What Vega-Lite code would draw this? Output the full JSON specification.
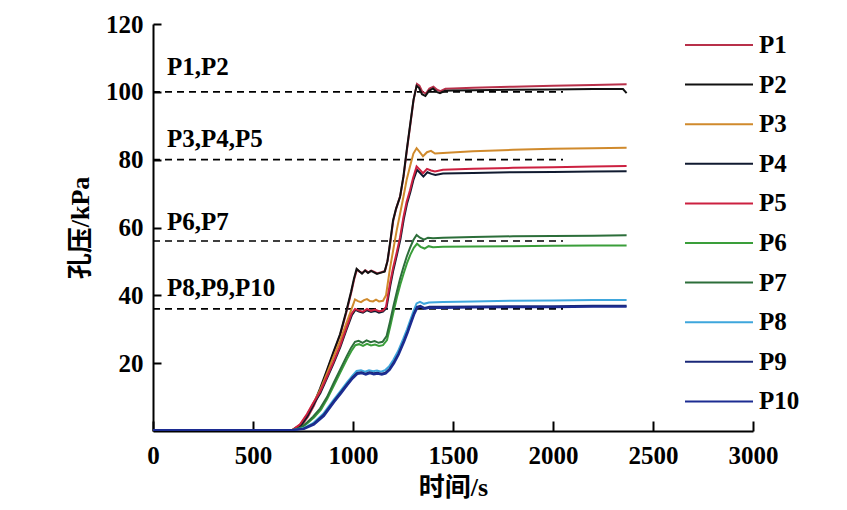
{
  "$schema": "https://vega.github.io/schema/vega-lite/v6.json",
  "width": 600,
  "height": 407,
  "autosize": {"type": "none"},
  "padding": {"left": 153, "top": 24, "right": 94, "bottom": 79},
  "background": "white",
  "config": {
    "view": {"stroke": null},
    "axis": {
      "grid": false,
      "domainColor": "black",
      "domainWidth": 2,
      "tickColor": "black",
      "tickWidth": 2,
      "labelFont": "Liberation Serif",
      "labelFontSize": 25,
      "labelFontWeight": "bold",
      "labelColor": "black",
      "labelFlush": false,
      "titleFont": "'Liberation Serif', 'Noto Sans CJK SC'",
      "titleFontSize": 26,
      "titleFontWeight": "bold",
      "titleColor": "black"
    }
  },
  "datasets": {
    "curves": [
      {"s":"P1","t":0,"p":0.3},{"s":"P1","t":300,"p":0.3},{"s":"P1","t":600,"p":0.3},{"s":"P1","t":700,"p":0.4},{"s":"P1","t":745,"p":1.8},{"s":"P1","t":775,"p":4.2},{"s":"P1","t":805,"p":7.5},{"s":"P1","t":840,"p":12.5},{"s":"P1","t":872,"p":18},{"s":"P1","t":902,"p":23},{"s":"P1","t":937,"p":28.5},{"s":"P1","t":967,"p":35},{"s":"P1","t":992,"p":41},{"s":"P1","t":1007,"p":45},{"s":"P1","t":1020,"p":47.6},{"s":"P1","t":1032,"p":47},{"s":"P1","t":1047,"p":46.6},{"s":"P1","t":1062,"p":47.4},{"s":"P1","t":1077,"p":46.8},{"s":"P1","t":1092,"p":47.3},{"s":"P1","t":1107,"p":46.9},{"s":"P1","t":1122,"p":46.5},{"s":"P1","t":1142,"p":46.8},{"s":"P1","t":1160,"p":47.2},{"s":"P1","t":1174,"p":50.5},{"s":"P1","t":1187,"p":55.8},{"s":"P1","t":1202,"p":62.3},{"s":"P1","t":1217,"p":65.8},{"s":"P1","t":1237,"p":69.5},{"s":"P1","t":1254,"p":75.5},{"s":"P1","t":1270,"p":83},{"s":"P1","t":1287,"p":90.5},{"s":"P1","t":1304,"p":98},{"s":"P1","t":1320,"p":102.3},{"s":"P1","t":1332,"p":101.8},{"s":"P1","t":1347,"p":100},{"s":"P1","t":1364,"p":99.5},{"s":"P1","t":1382,"p":101},{"s":"P1","t":1402,"p":101.5},{"s":"P1","t":1420,"p":100.6},{"s":"P1","t":1437,"p":100.2},{"s":"P1","t":1462,"p":100.9},{"s":"P1","t":1500,"p":101},{"s":"P1","t":1600,"p":101.2},{"s":"P1","t":1800,"p":101.5},{"s":"P1","t":2000,"p":101.8},{"s":"P1","t":2200,"p":102},{"s":"P1","t":2368,"p":102.2},
      {"s":"P2","t":0,"p":0.3},{"s":"P2","t":300,"p":0.3},{"s":"P2","t":600,"p":0.3},{"s":"P2","t":700,"p":0.4},{"s":"P2","t":740,"p":1.8},{"s":"P2","t":770,"p":4.2},{"s":"P2","t":800,"p":7.5},{"s":"P2","t":835,"p":12.5},{"s":"P2","t":870,"p":18},{"s":"P2","t":900,"p":23},{"s":"P2","t":935,"p":28.5},{"s":"P2","t":965,"p":35},{"s":"P2","t":990,"p":41},{"s":"P2","t":1005,"p":45},{"s":"P2","t":1018,"p":47.8},{"s":"P2","t":1030,"p":47.2},{"s":"P2","t":1045,"p":46.4},{"s":"P2","t":1060,"p":47.3},{"s":"P2","t":1075,"p":46.6},{"s":"P2","t":1090,"p":47.2},{"s":"P2","t":1105,"p":46.8},{"s":"P2","t":1120,"p":46.3},{"s":"P2","t":1140,"p":46.7},{"s":"P2","t":1158,"p":47},{"s":"P2","t":1172,"p":50},{"s":"P2","t":1185,"p":55.3},{"s":"P2","t":1200,"p":62},{"s":"P2","t":1215,"p":65.5},{"s":"P2","t":1235,"p":69},{"s":"P2","t":1252,"p":75},{"s":"P2","t":1268,"p":82.5},{"s":"P2","t":1285,"p":90},{"s":"P2","t":1302,"p":97.5},{"s":"P2","t":1318,"p":101.8},{"s":"P2","t":1330,"p":101.2},{"s":"P2","t":1345,"p":99.3},{"s":"P2","t":1362,"p":98.8},{"s":"P2","t":1380,"p":100.3},{"s":"P2","t":1400,"p":101},{"s":"P2","t":1418,"p":100},{"s":"P2","t":1435,"p":99.6},{"s":"P2","t":1460,"p":100.3},{"s":"P2","t":1500,"p":100.4},{"s":"P2","t":1600,"p":100.5},{"s":"P2","t":1800,"p":100.6},{"s":"P2","t":2000,"p":100.7},{"s":"P2","t":2200,"p":100.8},{"s":"P2","t":2350,"p":100.8},{"s":"P2","t":2368,"p":99.6},
      {"s":"P3","t":0,"p":0.3},{"s":"P3","t":600,"p":0.3},{"s":"P3","t":700,"p":0.4},{"s":"P3","t":735,"p":1.8},{"s":"P3","t":770,"p":4.8},{"s":"P3","t":800,"p":8},{"s":"P3","t":835,"p":12},{"s":"P3","t":870,"p":17},{"s":"P3","t":900,"p":21.5},{"s":"P3","t":935,"p":26.5},{"s":"P3","t":965,"p":31.5},{"s":"P3","t":993,"p":36},{"s":"P3","t":1010,"p":38.8},{"s":"P3","t":1025,"p":38.3},{"s":"P3","t":1040,"p":38},{"s":"P3","t":1055,"p":38.6},{"s":"P3","t":1070,"p":38.9},{"s":"P3","t":1085,"p":38.3},{"s":"P3","t":1100,"p":38.2},{"s":"P3","t":1115,"p":38.7},{"s":"P3","t":1130,"p":38.2},{"s":"P3","t":1150,"p":38.4},{"s":"P3","t":1165,"p":40},{"s":"P3","t":1185,"p":48},{"s":"P3","t":1200,"p":53},{"s":"P3","t":1218,"p":59},{"s":"P3","t":1235,"p":64},{"s":"P3","t":1252,"p":69},{"s":"P3","t":1268,"p":74},{"s":"P3","t":1285,"p":78},{"s":"P3","t":1302,"p":81.8},{"s":"P3","t":1318,"p":83.4},{"s":"P3","t":1333,"p":82.3},{"s":"P3","t":1350,"p":81},{"s":"P3","t":1370,"p":82.2},{"s":"P3","t":1390,"p":82.6},{"s":"P3","t":1410,"p":81.8},{"s":"P3","t":1450,"p":82},{"s":"P3","t":1600,"p":82.5},{"s":"P3","t":1800,"p":82.9},{"s":"P3","t":2000,"p":83.2},{"s":"P3","t":2200,"p":83.4},{"s":"P3","t":2368,"p":83.5},
      {"s":"P4","t":0,"p":0.3},{"s":"P4","t":600,"p":0.3},{"s":"P4","t":700,"p":0.4},{"s":"P4","t":740,"p":1.8},{"s":"P4","t":772,"p":4.6},{"s":"P4","t":802,"p":7.8},{"s":"P4","t":837,"p":11.2},{"s":"P4","t":872,"p":15.8},{"s":"P4","t":902,"p":19.8},{"s":"P4","t":937,"p":24.8},{"s":"P4","t":967,"p":29.8},{"s":"P4","t":995,"p":34.2},{"s":"P4","t":1012,"p":35.7},{"s":"P4","t":1030,"p":35.2},{"s":"P4","t":1050,"p":34.9},{"s":"P4","t":1070,"p":35.6},{"s":"P4","t":1090,"p":35.1},{"s":"P4","t":1110,"p":35.4},{"s":"P4","t":1130,"p":34.9},{"s":"P4","t":1150,"p":35.2},{"s":"P4","t":1167,"p":36.2},{"s":"P4","t":1187,"p":43},{"s":"P4","t":1202,"p":47.5},{"s":"P4","t":1220,"p":52},{"s":"P4","t":1237,"p":56.5},{"s":"P4","t":1254,"p":62.5},{"s":"P4","t":1270,"p":67},{"s":"P4","t":1287,"p":70.5},{"s":"P4","t":1302,"p":74},{"s":"P4","t":1320,"p":77},{"s":"P4","t":1337,"p":76},{"s":"P4","t":1352,"p":75},{"s":"P4","t":1372,"p":76.3},{"s":"P4","t":1392,"p":75.8},{"s":"P4","t":1412,"p":75.5},{"s":"P4","t":1450,"p":75.9},{"s":"P4","t":1600,"p":76.1},{"s":"P4","t":1800,"p":76.3},{"s":"P4","t":2000,"p":76.4},{"s":"P4","t":2200,"p":76.5},{"s":"P4","t":2368,"p":76.6},
      {"s":"P5","t":0,"p":0.3},{"s":"P5","t":600,"p":0.3},{"s":"P5","t":700,"p":0.4},{"s":"P5","t":735,"p":2},{"s":"P5","t":770,"p":5},{"s":"P5","t":800,"p":8.2},{"s":"P5","t":835,"p":11.5},{"s":"P5","t":870,"p":16},{"s":"P5","t":900,"p":20},{"s":"P5","t":935,"p":25},{"s":"P5","t":965,"p":30},{"s":"P5","t":993,"p":34.6},{"s":"P5","t":1010,"p":36},{"s":"P5","t":1030,"p":35.5},{"s":"P5","t":1050,"p":35.2},{"s":"P5","t":1070,"p":36},{"s":"P5","t":1090,"p":35.4},{"s":"P5","t":1110,"p":35.8},{"s":"P5","t":1130,"p":35.3},{"s":"P5","t":1150,"p":35.5},{"s":"P5","t":1165,"p":36.6},{"s":"P5","t":1185,"p":43.5},{"s":"P5","t":1200,"p":48},{"s":"P5","t":1218,"p":52.5},{"s":"P5","t":1235,"p":57},{"s":"P5","t":1252,"p":63},{"s":"P5","t":1268,"p":67.5},{"s":"P5","t":1285,"p":71},{"s":"P5","t":1300,"p":74.5},{"s":"P5","t":1318,"p":78},{"s":"P5","t":1335,"p":77},{"s":"P5","t":1350,"p":76},{"s":"P5","t":1370,"p":77.3},{"s":"P5","t":1390,"p":76.8},{"s":"P5","t":1410,"p":76.5},{"s":"P5","t":1450,"p":77},{"s":"P5","t":1600,"p":77.3},{"s":"P5","t":1800,"p":77.6},{"s":"P5","t":2000,"p":77.8},{"s":"P5","t":2200,"p":78},{"s":"P5","t":2368,"p":78.1},
      {"s":"P6","t":0,"p":0.3},{"s":"P6","t":600,"p":0.3},{"s":"P6","t":700,"p":0.3},{"s":"P6","t":745,"p":1},{"s":"P6","t":775,"p":2.4},{"s":"P6","t":805,"p":4},{"s":"P6","t":840,"p":6.3},{"s":"P6","t":872,"p":9.6},{"s":"P6","t":905,"p":13.5},{"s":"P6","t":937,"p":17.3},{"s":"P6","t":970,"p":21.2},{"s":"P6","t":992,"p":23.6},{"s":"P6","t":1012,"p":25.3},{"s":"P6","t":1030,"p":25.6},{"s":"P6","t":1050,"p":25.1},{"s":"P6","t":1070,"p":25.7},{"s":"P6","t":1090,"p":25.2},{"s":"P6","t":1110,"p":25.5},{"s":"P6","t":1130,"p":25.1},{"s":"P6","t":1150,"p":25.3},{"s":"P6","t":1170,"p":26.8},{"s":"P6","t":1187,"p":31},{"s":"P6","t":1204,"p":35.5},{"s":"P6","t":1220,"p":39.5},{"s":"P6","t":1237,"p":43.3},{"s":"P6","t":1254,"p":46.6},{"s":"P6","t":1270,"p":49.5},{"s":"P6","t":1287,"p":52},{"s":"P6","t":1304,"p":54},{"s":"P6","t":1320,"p":55.2},{"s":"P6","t":1338,"p":54.3},{"s":"P6","t":1358,"p":53.8},{"s":"P6","t":1378,"p":54.5},{"s":"P6","t":1400,"p":54.2},{"s":"P6","t":1450,"p":54.3},{"s":"P6","t":1600,"p":54.4},{"s":"P6","t":1800,"p":54.5},{"s":"P6","t":2000,"p":54.6},{"s":"P6","t":2200,"p":54.7},{"s":"P6","t":2368,"p":54.7},
      {"s":"P7","t":0,"p":0.3},{"s":"P7","t":600,"p":0.3},{"s":"P7","t":700,"p":0.3},{"s":"P7","t":740,"p":1},{"s":"P7","t":770,"p":2.5},{"s":"P7","t":800,"p":4.2},{"s":"P7","t":835,"p":6.6},{"s":"P7","t":870,"p":10},{"s":"P7","t":902,"p":14},{"s":"P7","t":935,"p":18},{"s":"P7","t":968,"p":22},{"s":"P7","t":990,"p":24.5},{"s":"P7","t":1010,"p":26.3},{"s":"P7","t":1028,"p":26.6},{"s":"P7","t":1048,"p":26},{"s":"P7","t":1068,"p":26.7},{"s":"P7","t":1088,"p":26.2},{"s":"P7","t":1108,"p":26.5},{"s":"P7","t":1128,"p":26},{"s":"P7","t":1148,"p":26.3},{"s":"P7","t":1168,"p":28},{"s":"P7","t":1185,"p":32.2},{"s":"P7","t":1202,"p":36.8},{"s":"P7","t":1218,"p":40.8},{"s":"P7","t":1235,"p":44.8},{"s":"P7","t":1252,"p":48.3},{"s":"P7","t":1268,"p":51.3},{"s":"P7","t":1285,"p":54},{"s":"P7","t":1302,"p":56.3},{"s":"P7","t":1318,"p":57.8},{"s":"P7","t":1335,"p":57},{"s":"P7","t":1355,"p":56.4},{"s":"P7","t":1375,"p":57},{"s":"P7","t":1400,"p":56.8},{"s":"P7","t":1450,"p":57},{"s":"P7","t":1600,"p":57.2},{"s":"P7","t":1800,"p":57.4},{"s":"P7","t":2000,"p":57.5},{"s":"P7","t":2200,"p":57.6},{"s":"P7","t":2368,"p":57.7},
      {"s":"P8","t":0,"p":0.3},{"s":"P8","t":600,"p":0.3},{"s":"P8","t":700,"p":0.3},{"s":"P8","t":750,"p":0.8},{"s":"P8","t":800,"p":2.3},{"s":"P8","t":850,"p":5},{"s":"P8","t":902,"p":9.1},{"s":"P8","t":935,"p":11.6},{"s":"P8","t":968,"p":14.2},{"s":"P8","t":995,"p":16.2},{"s":"P8","t":1018,"p":17.7},{"s":"P8","t":1040,"p":17.9},{"s":"P8","t":1060,"p":17.5},{"s":"P8","t":1080,"p":17.9},{"s":"P8","t":1100,"p":17.6},{"s":"P8","t":1120,"p":17.8},{"s":"P8","t":1140,"p":17.5},{"s":"P8","t":1160,"p":17.9},{"s":"P8","t":1180,"p":19},{"s":"P8","t":1202,"p":21},{"s":"P8","t":1225,"p":23.5},{"s":"P8","t":1252,"p":27.3},{"s":"P8","t":1270,"p":30},{"s":"P8","t":1285,"p":32.5},{"s":"P8","t":1302,"p":35.3},{"s":"P8","t":1318,"p":37.6},{"s":"P8","t":1335,"p":38.1},{"s":"P8","t":1355,"p":37.5},{"s":"P8","t":1380,"p":37.9},{"s":"P8","t":1450,"p":38},{"s":"P8","t":1600,"p":38.2},{"s":"P8","t":1800,"p":38.4},{"s":"P8","t":2000,"p":38.5},{"s":"P8","t":2200,"p":38.6},{"s":"P8","t":2368,"p":38.6},
      {"s":"P9","t":0,"p":0.3},{"s":"P9","t":600,"p":0.3},{"s":"P9","t":700,"p":0.3},{"s":"P9","t":752,"p":0.7},{"s":"P9","t":802,"p":2.1},{"s":"P9","t":852,"p":4.7},{"s":"P9","t":904,"p":8.8},{"s":"P9","t":937,"p":11.3},{"s":"P9","t":970,"p":13.8},{"s":"P9","t":997,"p":15.8},{"s":"P9","t":1020,"p":17.1},{"s":"P9","t":1042,"p":17.3},{"s":"P9","t":1062,"p":16.9},{"s":"P9","t":1082,"p":17.3},{"s":"P9","t":1102,"p":17},{"s":"P9","t":1122,"p":17.2},{"s":"P9","t":1142,"p":16.9},{"s":"P9","t":1162,"p":17.2},{"s":"P9","t":1182,"p":18.3},{"s":"P9","t":1204,"p":20.3},{"s":"P9","t":1227,"p":22.8},{"s":"P9","t":1254,"p":26.6},{"s":"P9","t":1272,"p":29.3},{"s":"P9","t":1287,"p":31.8},{"s":"P9","t":1304,"p":34.6},{"s":"P9","t":1320,"p":36.6},{"s":"P9","t":1337,"p":36.9},{"s":"P9","t":1357,"p":36.3},{"s":"P9","t":1382,"p":36.6},{"s":"P9","t":1450,"p":36.6},{"s":"P9","t":1600,"p":36.7},{"s":"P9","t":1800,"p":36.8},{"s":"P9","t":2000,"p":36.8},{"s":"P9","t":2200,"p":36.9},{"s":"P9","t":2368,"p":36.9},
      {"s":"P10","t":0,"p":0.3},{"s":"P10","t":600,"p":0.3},{"s":"P10","t":700,"p":0.3},{"s":"P10","t":755,"p":0.6},{"s":"P10","t":805,"p":1.9},{"s":"P10","t":855,"p":4.4},{"s":"P10","t":906,"p":8.5},{"s":"P10","t":940,"p":11},{"s":"P10","t":972,"p":13.5},{"s":"P10","t":999,"p":15.5},{"s":"P10","t":1022,"p":16.8},{"s":"P10","t":1044,"p":17},{"s":"P10","t":1064,"p":16.6},{"s":"P10","t":1084,"p":17},{"s":"P10","t":1104,"p":16.7},{"s":"P10","t":1124,"p":16.9},{"s":"P10","t":1144,"p":16.6},{"s":"P10","t":1164,"p":16.9},{"s":"P10","t":1184,"p":18},{"s":"P10","t":1206,"p":20},{"s":"P10","t":1229,"p":22.5},{"s":"P10","t":1256,"p":26.3},{"s":"P10","t":1274,"p":29},{"s":"P10","t":1289,"p":31.5},{"s":"P10","t":1306,"p":34.3},{"s":"P10","t":1322,"p":36.3},{"s":"P10","t":1339,"p":36.6},{"s":"P10","t":1359,"p":36},{"s":"P10","t":1384,"p":36.3},{"s":"P10","t":1450,"p":36.3},{"s":"P10","t":1600,"p":36.4},{"s":"P10","t":1800,"p":36.5},{"s":"P10","t":2000,"p":36.5},{"s":"P10","t":2200,"p":36.6},{"s":"P10","t":2368,"p":36.6}
    ],
    "refs": [
      {"g":"a","t":0,"p":100},{"g":"a","t":2050,"p":100},
      {"g":"b","t":0,"p":80},{"g":"b","t":2050,"p":80},
      {"g":"c","t":0,"p":56},{"g":"c","t":2050,"p":56},
      {"g":"d","t":0,"p":36},{"g":"d","t":2050,"p":36}
    ],
    "labels": [
      {"label":"P1,P2","t":70,"p":105},
      {"label":"P3,P4,P5","t":70,"p":83.8},
      {"label":"P6,P7","t":70,"p":59.3},
      {"label":"P8,P9,P10","t":70,"p":39.8}
    ]
  },
  "layer": [
    {
      "data": {"name": "refs"},
      "mark": {"type": "line", "color": "black", "strokeWidth": 1.6, "strokeDash": [7, 5]},
      "encoding": {
        "x": {"field": "t", "type": "quantitative", "scale": {"domain": [0, 3000], "nice": false},
              "axis": {"title": "时间/s", "values": [0, 500, 1000, 1500, 2000, 2500, 3000], "format": "d", "tickSize": -10, "labelPadding": 22, "titlePadding": 6}},
        "y": {"field": "p", "type": "quantitative", "scale": {"domain": [0, 120], "nice": false},
              "axis": {"title": "孔压/kPa", "values": [20, 40, 60, 80, 100, 120], "tickSize": -8, "labelPadding": 18, "titlePadding": 12}},
        "detail": {"field": "g"}
      }
    },
    {
      "data": {"name": "curves"},
      "mark": {"type": "line", "strokeWidth": 2},
      "encoding": {
        "x": {"field": "t", "type": "quantitative"},
        "y": {"field": "p", "type": "quantitative"},
        "color": {
          "field": "s", "type": "nominal",
          "scale": {
            "domain": ["P1","P2","P3","P4","P5","P6","P7","P8","P9","P10"],
            "range": ["#b8304a","#111111","#d08a2c","#101a30","#cc2040","#3a9e3a","#2c6e3a","#3ea6dc","#1a2878","#1c2c92"]
          },
          "legend": {
            "orient": "none", "legendX": 548, "legendY": 3, "title": null,
            "symbolType": "M-2,0H2", "symbolSize": 1156, "symbolStrokeWidth": 2, "symbolFillColor": "transparent",
            "labelFont": "Liberation Serif", "labelFontSize": 25, "labelFontWeight": "bold", "labelColor": "black",
            "labelOffset": 22, "rowPadding": 8.6
          }
        }
      }
    },
    {
      "data": {"name": "labels"},
      "mark": {"type": "text", "align": "left", "baseline": "alphabetic", "font": "Liberation Serif", "fontSize": 25, "fontWeight": "bold", "color": "black"},
      "encoding": {
        "x": {"field": "t", "type": "quantitative"},
        "y": {"field": "p", "type": "quantitative"},
        "text": {"field": "label"}
      }
    }
  ]
}
